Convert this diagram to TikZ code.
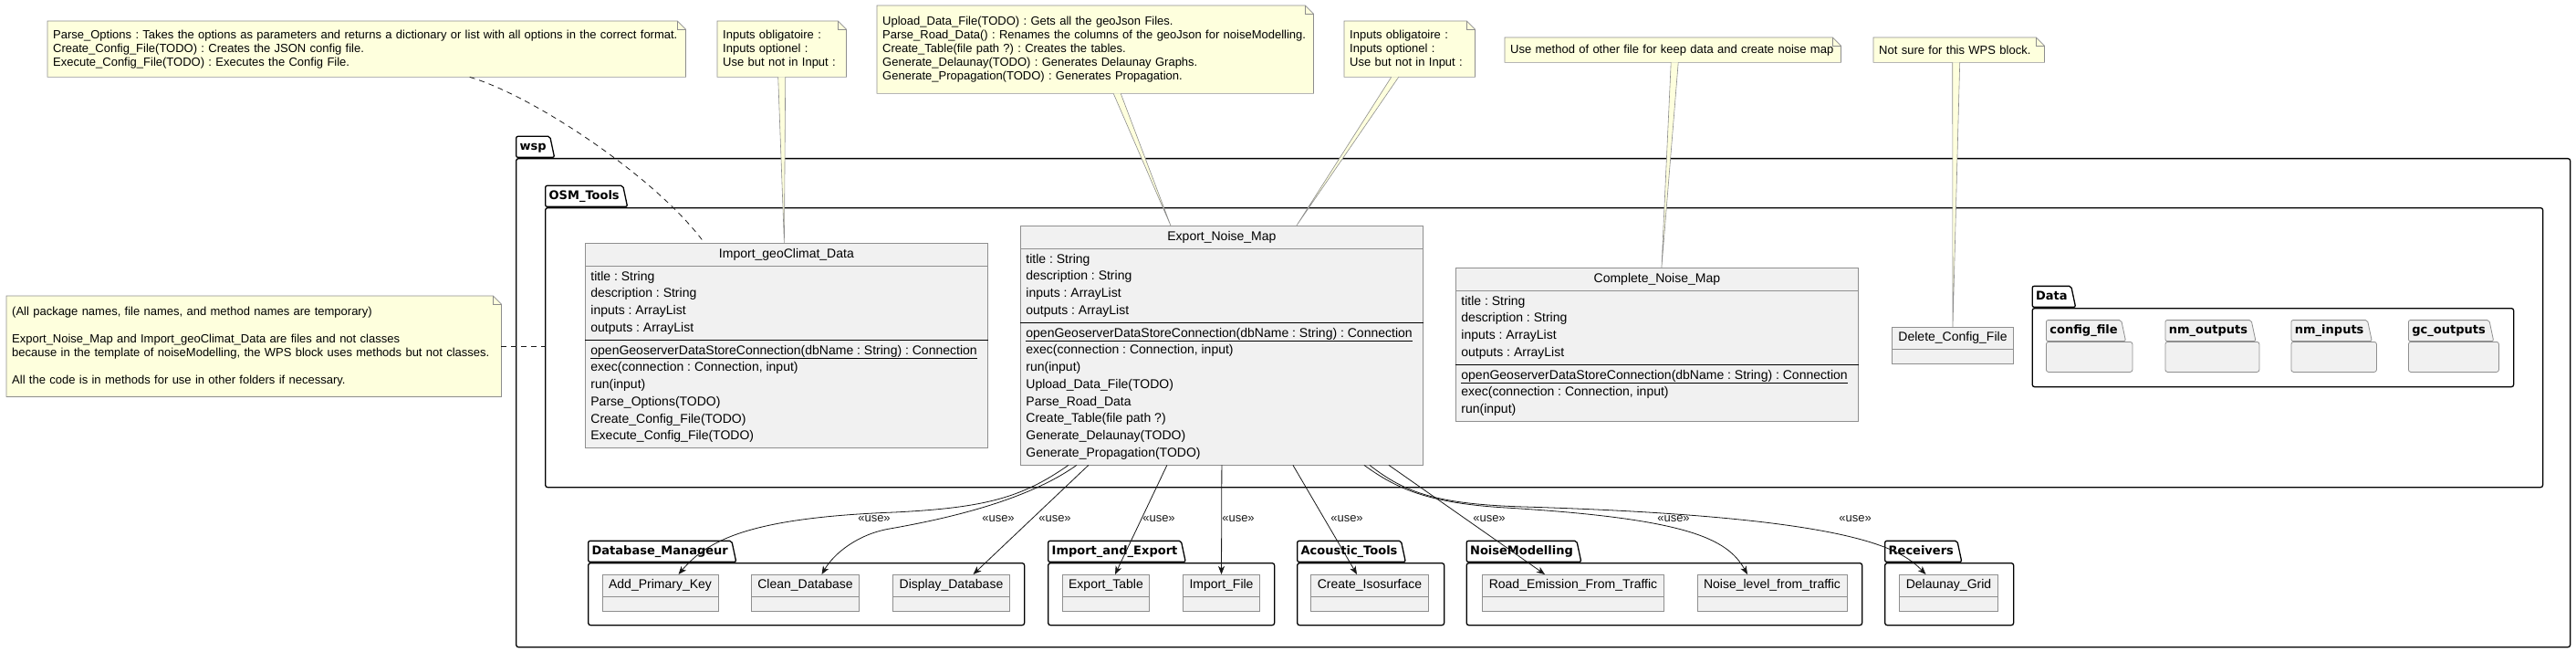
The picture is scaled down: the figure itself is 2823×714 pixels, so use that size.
\documentclass[tikz,border=0pt]{standalone}
\usepackage{fontspec}
\setmainfont{Liberation Sans}
\newfontfamily\pkgfont{DejaVu Sans}
\usetikzlibrary{shapes.multipart,shapes.geometric,arrows.meta}
\frenchspacing
\hyphenpenalty=10000
\exhyphenpenalty=10000
\definecolor{notebg}{HTML}{FEFFDD}
\definecolor{noteedge}{HTML}{8D8D8D}
\definecolor{classbg}{HTML}{F1F1F1}
\definecolor{classedge}{HTML}{8F8F8F}
\definecolor{linkcol}{HTML}{181818}
\tikzset{
  pkgframe/.style={draw=black,line width=1.3pt,fill=white,rounded corners=2.5pt,inner sep=0pt,anchor=north west},
  pkgtab/.style={trapezium,trapezium left angle=90,trapezium right angle=78,draw=black,fill=white,line width=1.3pt,rounded corners=2pt,font=\pkgfont\bfseries\fontsize{13}{15}\selectfont,inner xsep=4pt,inner ysep=5pt,text height=10pt,text depth=3pt,anchor=bottom left corner},
  subpkg/.style={draw=classedge,fill=classbg,line width=0.8pt},
  classbox/.style={rectangle split,rectangle split parts=3,draw=classedge,fill=classbg,line width=0.8pt,align=left,rectangle split part align={center,left,left},inner xsep=6pt,inner ysep=5.5pt,font=\fontsize{14}{18.7}\selectfont,minimum width=441pt,anchor=north west},
  smallclass/.style={rectangle split,rectangle split parts=2,rectangle split ignore empty parts=false,rectangle split empty part height=5pt,draw=classedge,fill=classbg,line width=0.8pt,inner xsep=7pt,inner ysep=5pt,font=\fontsize{14}{16}\selectfont,anchor=north},
  notebox/.style={fill=notebg,inner xsep=6pt,inner ysep=0pt,align=left,font=\fontsize{13}{15}\selectfont,anchor=north west},
  noteline/.style={draw=noteedge,line width=0.7pt},
  stem/.style={draw=noteedge,fill=notebg,line width=0.6pt},
  notelink/.style={draw=linkcol,dash pattern=on 6pt off 5pt,line width=0.8pt},
  uses/.style={draw=linkcol,line width=0.8pt,-{Stealth[length=9pt,width=7pt,inset=2.5pt]}},
  uselbl/.style={font=\fontsize{13}{15}\selectfont,text=linkcol,inner sep=0pt}
}
\newcommand{\umlpkg}[7][]{%
  \node[pkgframe,#1,minimum width=#5pt,minimum height=#6pt] (#2) at (#3,#4) {};
  \node[pkgtab,#1] (#2tab) at (#2.north west) {#7};
}
\newcommand{\notefold}[1]{%
  \fill[white] ([xshift=-9pt]#1.north east) -- (#1.north east) -- ([yshift=-9pt]#1.north east) -- cycle;
  \draw[noteline] (#1.south west) -- (#1.north west) -- ([xshift=-9pt]#1.north east) -- ([yshift=-9pt]#1.north east) -- (#1.south east) -- cycle;
  \draw[noteline] ([xshift=-9pt]#1.north east) |- ([yshift=-9pt]#1.north east);
}
\begin{document}
\begin{tikzpicture}[x=1pt,y=-1pt]
  \useasboundingbox (0,0) rectangle (2823,714);

  \umlpkg{wsp}{565}{173}{2251}{535}{wsp}
  \umlpkg{osm}{597}{227}{2189}{306}{OSM\_Tools}
  \umlpkg{data}{2226.5}{337}{527.5}{86}{Data}
  \umlpkg[subpkg]{cfg}{2242}{374}{94.5}{33}{config\_file}
  \umlpkg[subpkg]{nmout}{2372.5}{374}{103}{33}{nm\_outputs}
  \umlpkg[subpkg]{nmin}{2510.5}{374}{93.5}{33}{nm\_inputs}
  \umlpkg[subpkg]{gcout}{2639}{374}{99}{33}{gc\_outputs}
  \umlpkg{dbm}{644}{616}{478}{68}{Database\_Manageur}
  \umlpkg{iae}{1148}{616}{248}{68}{Import\_and\_Export}
  \umlpkg{act}{1421}{616}{161}{68}{Acoustic\_Tools}
  \umlpkg{nmo}{1606.5}{616}{433.5}{68}{NoiseModelling}
  \umlpkg{rcv}{2065}{616}{141}{68}{Receivers}

  \node[classbox] (imp) at (641,266) {Import\_geoClimat\_Data
    \nodepart{two}title : String\\description : String\\inputs : ArrayList\\outputs : ArrayList
    \nodepart{three}\underline{openGeoserverDataStoreConnection(dbName : String) : Connection}\\exec(connection : Connection, input)\\run(input)\\Parse\_Options(TODO)\\Create\_Config\_File(TODO)\\Execute\_Config\_File(TODO)};
  \node[classbox] (exp) at (1118,247) {Export\_Noise\_Map
    \nodepart{two}title : String\\description : String\\inputs : ArrayList\\outputs : ArrayList
    \nodepart{three}\underline{openGeoserverDataStoreConnection(dbName : String) : Connection}\\exec(connection : Connection, input)\\run(input)\\Upload\_Data\_File(TODO)\\Parse\_Road\_Data\\Create\_Table(file path ?)\\Generate\_Delaunay(TODO)\\Generate\_Propagation(TODO)};
  \node[classbox] (cmp) at (1595,293) {Complete\_Noise\_Map
    \nodepart{two}title : String\\description : String\\inputs : ArrayList\\outputs : ArrayList
    \nodepart{three}\underline{openGeoserverDataStoreConnection(dbName : String) : Connection}\\exec(connection : Connection, input)\\run(input)};
  \draw[line width=0.9pt] (imp.two split west) -- (imp.two split east);
  \draw[line width=0.9pt] (exp.two split west) -- (exp.two split east);
  \draw[line width=0.9pt] (cmp.two split west) -- (cmp.two split east);

  \node[smallclass] (del) at (2140,358) {Delete\_Config\_File};
  \node[smallclass] (apk) at (723.5,629) {Add\_Primary\_Key};
  \node[smallclass] (cdb) at (882.5,629) {Clean\_Database};
  \node[smallclass] (ddb) at (1042.5,629) {Display\_Database};
  \node[smallclass] (ext) at (1212,629) {Export\_Table};
  \node[smallclass] (imf) at (1338.5,629) {Import\_File};
  \node[smallclass] (iso) at (1501,629) {Create\_Isosurface};
  \node[smallclass] (rem) at (1724,629) {Road\_Emission\_From\_Traffic};
  \node[smallclass] (nlt) at (1942,629) {Noise\_level\_from\_traffic};
  \node[smallclass] (dlg) at (2135.5,629) {Delaunay\_Grid};

  \draw[uses] ([xshift=-168pt]exp.south) .. controls (1120,545) and (1080,556) .. (980,561) .. controls (820,567) and (775,592) .. ([xshift=20pt]apk.north);
  \draw[uses] ([xshift=-159pt]exp.south) .. controls (1130,545) and (1050,566) .. (975,579) .. controls (940,585) and (914,606) .. ([xshift=18pt]cdb.north);
  \draw[uses] ([xshift=-146pt]exp.south) -- ([xshift=24pt]ddb.north);
  \draw[uses] ([xshift=-60pt]exp.south) -- ([xshift=10pt]ext.north);
  \draw[uses] (exp.south) -- (imf.north);
  \draw[uses] ([xshift=78pt]exp.south) -- ([xshift=-14pt]iso.north);
  \draw[uses] ([xshift=183pt]exp.south) -- ([xshift=-31pt]rem.north);
  \draw[uses] ([xshift=156pt]exp.south) .. controls (1530,535) and (1565,551) .. (1650,556) .. controls (1850,568) and (1893,590) .. ([xshift=-27pt]nlt.north);
  \draw[uses] ([xshift=162pt]exp.south) .. controls (1540,540) and (1575,552) .. (1670,555) .. controls (2030,566) and (2082,600) .. ([xshift=-25pt]dlg.north);

  \node[uselbl] (uapk) at (958,568) {«use»};
  \node[uselbl] (ucdb) at (1094,568) {«use»};
  \node[uselbl] (uddb) at (1156,568) {«use»};
  \node[uselbl] (uext) at (1270,568) {«use»};
  \node[uselbl] (uimf) at (1357,568) {«use»};
  \node[uselbl] (uiso) at (1476,568) {«use»};
  \node[uselbl] (urem) at (1632,568) {«use»};
  \node[uselbl] (unlt) at (1834,568) {«use»};
  \node[uselbl] (udlg) at (2033,568) {«use»};

  \node[notebox,text width=687pt,minimum height=61pt] (nParse) at (52,23) {Parse\_Options : Takes the options as parameters and returns a dictionary or list with all options in the correct format.\\Create\_Config\_File(TODO) : Creates the JSON config file.\\Execute\_Config\_File(TODO) : Executes the Config File.};
  \notefold{nParse}
  \node[notebox,text width=129pt,minimum height=61pt] (nInImp) at (786,23) {Inputs obligatoire :\\Inputs optionel :\\Use but not in Input :};
  \notefold{nInImp}
  \node[notebox,text width=466pt,minimum height=96pt] (nUpload) at (961,6) {Upload\_Data\_File(TODO) : Gets all the geoJson Files.\\Parse\_Road\_Data() : Renames the columns of the geoJson for noiseModelling.\\Create\_Table(file path ?) : Creates the tables.\\Generate\_Delaunay(TODO) : Generates Delaunay Graphs.\\Generate\_Propagation(TODO) : Generates Propagation.};
  \notefold{nUpload}
  \node[notebox,text width=131pt,minimum height=61pt] (nInExp) at (1473,23) {Inputs obligatoire :\\Inputs optionel :\\Use but not in Input :};
  \notefold{nInExp}
  \node[notebox,text width=356pt,minimum height=27pt] (nUse) at (1649,41) {Use method of other file for keep data and create noise map};
  \notefold{nUse}
  \node[notebox,text width=175pt,minimum height=27pt] (nSure) at (2053,41) {Not sure for this WPS block.};
  \notefold{nSure}
  \node[notebox,text width=530pt,minimum height=110pt] (nAll) at (7,324) {(All package names, file names, and method names are temporary)\\[15pt]Export\_Noise\_Map and Import\_geoClimat\_Data are files and not classes\\because in the template of noiseModelling, the WPS block uses methods but not classes.\\[15pt]All the code is in methods for use in other folders if necessary.};
  \notefold{nAll}

  \draw[stem] ([xshift=-4pt]nInImp.south) -- ([xshift=-2.5pt]imp.north) -- ([xshift=4pt]nInImp.south);
  \draw[stem] ([xshift=20pt]nUpload.south) -- ([xshift=-56pt]exp.north) -- ([xshift=28pt]nUpload.south);
  \draw[stem] ([xshift=-20pt]nInExp.south) -- ([xshift=82pt]exp.north) -- ([xshift=-12pt]nInExp.south);
  \draw[stem] ([xshift=-2pt]nUse.south) -- ([xshift=5pt]cmp.north) -- ([xshift=6pt]nUse.south);
  \draw[stem] ([xshift=-7pt]nSure.south) -- (del.north) -- ([xshift=1pt]nSure.south);
  \draw[notelink] ([xshift=113pt]nParse.south) .. controls (585,105) and (720,195) .. ([xshift=-90pt]imp.north);
  \draw[notelink] (nAll.east) -- (nAll.east -| osm.west);
\end{tikzpicture}
\end{document}
